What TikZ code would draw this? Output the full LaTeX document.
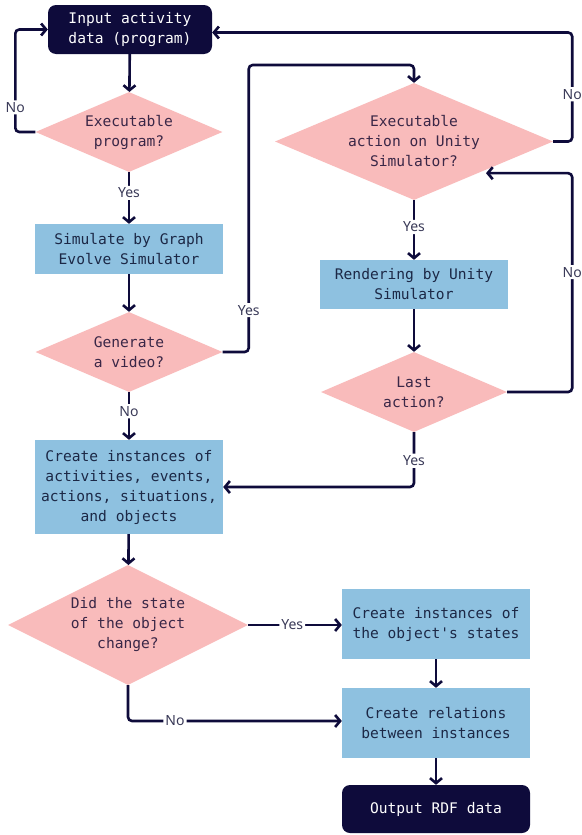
\documentclass[tikz,border=0pt]{standalone}
\usepackage{fontspec}
\setmonofont{DejaVu Sans Mono}
\setsansfont{Noto Sans}
\usetikzlibrary{shapes.geometric,arrows.meta,calc}
\definecolor{navy}{HTML}{0E0B3B}
\definecolor{procblue}{HTML}{8EC1E0}
\definecolor{decpink}{HTML}{F9BBBB}
\definecolor{proctext}{HTML}{1C2846}
\definecolor{dectext}{HTML}{3A2747}
\definecolor{lbltext}{HTML}{3A3A58}
\begin{document}
\begin{tikzpicture}[x=1pt,y=-1pt,
  txt/.style={font=\ttfamily\fontsize{14.6}{20}\selectfont, align=center},
  term/.style={txt, fill=navy, text=white, rounded corners=8pt, inner sep=0pt,
    minimum width=164pt, minimum height=49pt},
  proc/.style={txt, fill=procblue, text=proctext, inner sep=0pt, minimum width=188pt},
  dec/.style={txt, diamond, fill=decpink, text=dectext, inner sep=0pt},
  lbl/.style={fill=white, text=lbltext, inner sep=2pt,
    font=\sffamily\fontsize{14}{16}\selectfont},
  arr/.style={draw=navy, line width=2.6pt, rounded corners=4pt,
    -{Straight Barb[length=5pt, width=12pt]}}]
\useasboundingbox[fill=white] (0,0) rectangle (581,835);

% left column
\node[term] (in) at (130,29.5) {Input activity\\data (program)};
\node[dec, minimum width=187pt, minimum height=80pt, aspect=2.34] (d1) at (129,132) {Executable\\program?};
\node[proc, minimum height=50pt] (sim) at (129,249) {Simulate by Graph\\Evolve Simulator};
\node[dec, minimum width=187pt, minimum height=80pt, aspect=2.34] (d2) at (129,352) {Generate\\a video?};
\node[proc, minimum height=94pt] (inst) at (129,487) {Create instances of\\activities, events,\\actions, situations,\\and objects};

% right column (Unity rendering loop)
\node[dec, minimum width=278pt, minimum height=117pt, aspect=2.38] (d3) at (414,141.5) {Executable\\action on Unity\\Simulator?};
\node[proc, minimum height=49pt] (ren) at (414,284.5) {Rendering by Unity\\Simulator};
\node[dec, minimum width=186pt, minimum height=80pt, aspect=2.33] (d4) at (414,392) {Last\\action?};

% bottom part
\node[dec, minimum width=240pt, minimum height=120pt, aspect=2] (d5) at (128,625) {Did the state\\of the object\\change?};
\node[proc, minimum height=70pt] (st) at (436,624) {Create instances of\\the object's states};
\node[proc, minimum height=70pt] (rel) at (436,723) {Create relations\\between instances};
\node[term, minimum width=188pt, minimum height=48pt] (out) at (436,809) {Output RDF data};

\coordinate (d3in) at ([xshift=8pt]$(d3.east)!0.54!(d3.south)$);

% connectors
\draw[arr] (in) -- (d1);
\draw[arr] (d1.west) -- ++(-20,0) |- node[lbl,pos=0.12]{No} (in.west);
\draw[arr] (d1) -- node[lbl,pos=0.4]{Yes} (sim);
\draw[arr] (sim) -- (d2);
\draw[arr] (d2.east) -- ++(26,0) |- node[lbl,pos=0.073]{Yes} ([yshift=-35.5pt]in.east -| d3.north) -- (d3.north);
\draw[arr] (d2) -- node[lbl,pos=0.4]{No} (inst);
\draw[arr] (d3.east) -- ++(19,0) |- node[lbl,pos=0.217]{No} ([yshift=-3pt]in.east);
\draw[arr] (d3) -- node[lbl,pos=0.45]{Yes} (ren);
\draw[arr] (ren) -- (d4);
\draw[arr] (d4.east) -- ++(65,0) |- node[lbl,pos=0.274]{No} (d3in);
\draw[arr] (d4.south) |- node[lbl,pos=0.26]{Yes} (inst.east);
\draw[arr] (inst) -- (d5);
\draw[arr] (d5.east) -- node[lbl,pos=0.47]{Yes} (d5.east -| st.west);
\draw[arr] (d5.south) |- node[lbl,pos=0.61]{No} ([yshift=2pt]rel.west);
\draw[arr] (st) -- (rel);
\draw[arr] (rel) -- (out);
\end{tikzpicture}
\end{document}
